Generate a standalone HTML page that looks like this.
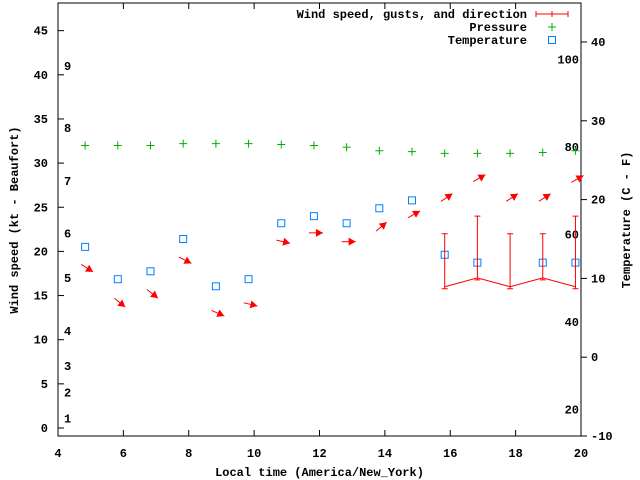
<!DOCTYPE html>
<html><head><meta charset="utf-8">
<style>
html,body{margin:0;padding:0;background:#fff;}
svg{display:block;font-family:"Liberation Mono","DejaVu Sans Mono",monospace;font-weight:bold;font-size:12px;}
</style></head>
<body>
<svg id="chart" width="640" height="480" viewBox="0 0 640 480" xmlns="http://www.w3.org/2000/svg">
<g id="axes"></g>
<g id="marks"></g>
</svg>
<script>
const times = [4.83,5.83,6.83,7.83,8.83,9.83,10.83,11.83,12.83,13.83,14.83,15.83,16.83,17.83,18.83,19.83];
const pressure = [32.0,32.0,32.0,32.2,32.2,32.2,32.1,32.0,31.8,31.4,31.3,31.1,31.1,31.1,31.2,31.4];
const temperature = [14.0,9.9,10.9,15.0,9.0,9.9,17.0,17.9,17.0,18.9,19.9,13.0,12.0,null,12.0,12.0];
const arrowLevel = [18.1,14.2,15.2,19.0,13.0,14.0,21.1,22.1,21.1,22.8,24.2,26.1,28.3,26.1,26.1,28.2];
const arrowAngle = [32,39,38,27,23,13,13,0,0,-40,-30,-34,-30,-33,-33,-30];
const windTimes = [15.83,16.83,17.83,18.83,19.83];
const windSpeed = [16,17,16,17,16];
const windGust = [22,24,22,22,24];
const xTicks = [4,6,8,10,12,14,16,18,20];
const yTicks = [0,5,10,15,20,25,30,35,40,45];
const y2Ticks = [-10,0,10,20,30,40];
const beaufortLabels = [[1,1.1],[2,4],[3,7],[4,11],[5,17],[6,22],[7,28],[8,34],[9,41]];
const fahrenheitLabels = [20,40,60,80,100];

const L=58,R=581,T=3,B=436;
const X=v=>L+(v-4)*(R-L)/16;
const Y=v=>428-v*8.83;
const Y2=v=>B-(v+10)*7.88;
const NS="http://www.w3.org/2000/svg";
const axes=document.getElementById('axes'), marks=document.getElementById('marks');
function el(tag,attrs,parent,text){const e=document.createElementNS(NS,tag);for(const k in attrs)e.setAttribute(k,attrs[k]);if(text!==undefined)e.textContent=text;parent.appendChild(e);return e;}

let e=el('rect',{x:L,y:T,width:R-L,height:B-T,fill:'none',stroke:'#000','stroke-width':1},axes);


xTicks.forEach(v=>{
  el('line',{x1:X(v),x2:X(v),y1:B,y2:B-6,stroke:'#000'},axes);
  el('line',{x1:X(v),x2:X(v),y1:T,y2:T+6,stroke:'#000'},axes);
  const t=el('text',{x:X(v),y:B+21,'text-anchor':'middle'},axes,String(v));
  
  
});
yTicks.forEach(v=>{
  el('line',{x1:L,x2:L+6,y1:Y(v),y2:Y(v),stroke:'#000'},axes);
  const t=el('text',{x:L-10,y:Y(v)+4,'text-anchor':'end'},axes,String(v));
  
  
});
y2Ticks.forEach(v=>{
  el('line',{x1:R,x2:R+6,y1:Y2(v),y2:Y2(v),stroke:'#000'},axes);
  const t=el('text',{x:R+10,y:Y2(v)+4,'text-anchor':'start'},axes,String(v));
  
  
});
beaufortLabels.forEach(b=>{
  const t=el('text',{x:L+6,y:Y(b[1])+4},axes,String(b[0]));
  
  
});
fahrenheitLabels.forEach(f=>{
  const c=(f-32)*5/9;
  const t=el('text',{x:R-2,y:Y2(c)+4,'text-anchor':'end'},axes,String(f));
  
  
});
e=el('text',{x:(L+R)/2,y:476,'text-anchor':'middle'},axes,'Local time (America/New_York)');


e=el('text',{x:0,y:0,'text-anchor':'middle',transform:'translate(18,220) rotate(-90)'},axes,'Wind speed (kt - Beaufort)');


e=el('text',{x:0,y:0,'text-anchor':'middle',transform:'translate(630,220) rotate(-90)'},axes,'Temperature (C - F)');



// pressure
times.forEach((t,i)=>{
  const x=X(t),y=Y(pressure[i]);
  const p=el('path',{d:`M${x-4},${y}H${x+4}M${x},${y-4}V${y+4}`,stroke:'#00b000','stroke-width':1},marks);
  
  
});
// temperature
times.forEach((t,i)=>{
  if(temperature[i]===null)return;
  const r=el('rect',{x:X(t)-3.5,y:Y2(temperature[i])-3.5,width:7,height:7,fill:'none',stroke:'#0080ff','stroke-width':1},marks);
  
  
});
// wind arrows
times.forEach((t,i)=>{
  const cx=X(t)+2,cy=Y(arrowLevel[i]),a=arrowAngle[i]*Math.PI/180,h=7;
  const dx=Math.cos(a),dy=Math.sin(a);
  const x1=cx-dx*h,y1=cy-dy*h,x2=cx+dx*h,y2=cy+dy*h;
  const g=el('g',{},marks);
  
  
  el('line',{x1,y1,x2,y2,stroke:'#f00','stroke-width':1},g);
  const px=-dy,py=dx;
  el('polygon',{points:`${x2},${y2} ${x2-dx*7+px*4},${y2-dy*7+py*4} ${x2-dx*7-px*4},${y2-dy*7-py*4}`,fill:'#f00'},g);
});
// wind speed line + gust bars
let d='';
windTimes.forEach((t,i)=>{d+=(i?'L':'M')+X(t)+','+Y(windSpeed[i]);});
e=el('path',{d,fill:'none',stroke:'#f00','stroke-width':1},marks);


windTimes.forEach((t,i)=>{
  const x=X(t),y1=Y(windSpeed[i]),y2=Y(windGust[i]);
  const p=el('path',{d:`M${x},${y1+2}V${y2}M${x-3},${y2}H${x+3}M${x-3},${y1+2}H${x+3}`,stroke:'#f00','stroke-width':1,fill:'none'},marks);
  
  
});
// legend
const lg=el('g',{},marks);


const lx=527;
[['Wind speed, gusts, and direction',14],['Pressure',27],['Temperature',40]].forEach(r=>{
  const t=el('text',{x:lx,y:r[1]+4,'text-anchor':'end'},lg,r[0]);
  
  
});
el('path',{d:'M536,14H568M536,11V17M568,11V17M552,11V17',stroke:'#f00',fill:'none'},lg);
el('path',{d:'M548,27H556M552,23V31',stroke:'#00b000'},lg);
el('rect',{x:548.5,y:36.5,width:7,height:7,fill:'none',stroke:'#0080ff'},lg);
</script>
</body></html>
